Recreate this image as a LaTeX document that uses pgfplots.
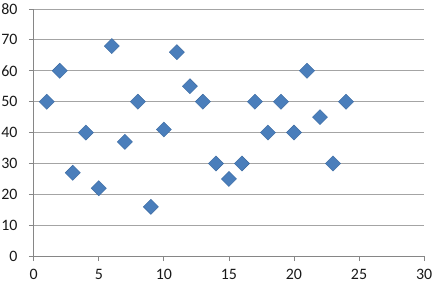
\documentclass[border=0pt]{standalone}
\usepackage{pgfplots}
\pgfplotsset{compat=1.18}
\usepackage{fontspec}
\setmainfont{Carlito}
\definecolor{mk}{RGB}{74,126,187}
\definecolor{mkb}{RGB}{60,105,160}
\definecolor{grd}{RGB}{134,134,134}
\begin{document}
\begin{tikzpicture}
\begin{axis}[
  at={(0,0)}, anchor=origin,
  scale only axis, width=393bp, height=249bp,
  xmin=0, xmax=30, ymin=0, ymax=80,
  xtick={0,5,...,30}, ytick={0,10,...,80},
  axis x line*=bottom, axis y line*=left,
  axis line style={draw=grd, line width=0.8pt, -},
  tick style={draw=grd, line width=0.8pt},
  xtick pos=bottom, ytick pos=left,
  tick align=outside, major tick length=5bp,
  ymajorgrids, grid style={draw=grd!75, line width=0.8pt},
  tick label style={font=\fontsize{16bp}{18bp}\selectfont, text=black!90},
  /pgf/number format/assume math mode=true,
  xticklabel style={yshift=-5bp},
  yticklabel style={xshift=-8bp},
  clip=false,
]
\addplot[only marks, mark=square*, mark size=5.4bp, mark options={rotate=45, fill=mk, draw=mkb, line width=0.4pt}]
coordinates {
(1,50) (2,60) (3,27) (4,40) (5,22) (6,68) (7,37) (8,50) (9,16) (10,41)
(11,66) (12,55) (13,50) (14,30) (15,25) (16,30) (17,50) (18,40) (19,50)
(20,40) (21,60) (22,45) (23,30) (24,50)
};
\end{axis}
\pgfresetboundingbox
\useasboundingbox (-34bp,-28bp) rectangle (405bp,258bp);
\end{tikzpicture}
\end{document}
